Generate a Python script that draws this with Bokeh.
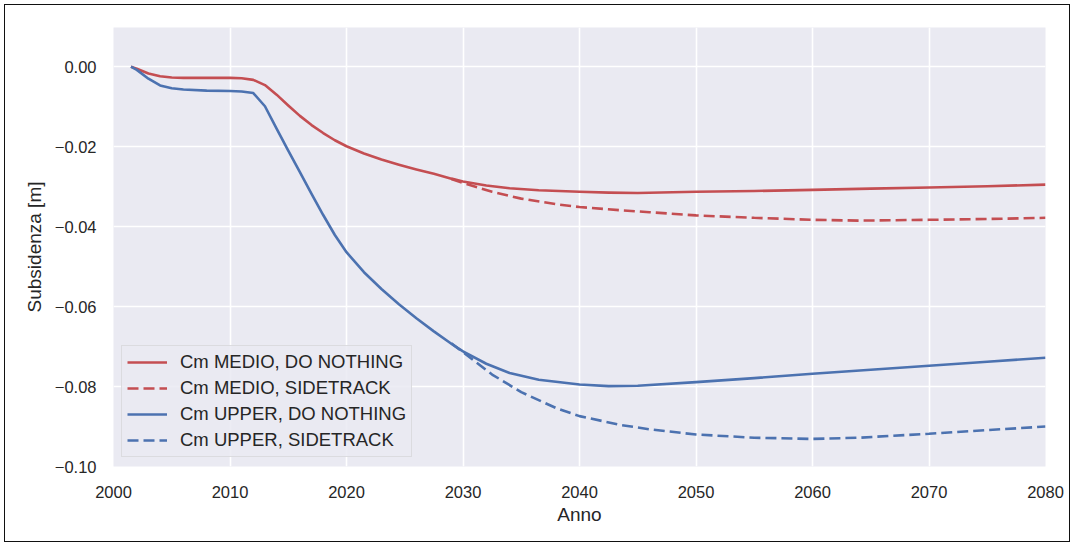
from bokeh.plotting import figure
from bokeh.models import FixedTicker, CustomJSTickFormatter, Legend, LegendItem
from bokeh.embed import file_html
from bokeh.resources import INLINE

# --- data ---
years_base = [2001.5, 2002, 2003, 2004, 2005, 2006, 2008, 2010, 2011, 2012, 2013, 2014, 2015, 2016,
              2017, 2018, 2019, 2020, 2021.5, 2023, 2024.5, 2026, 2027.5, 2029, 2030, 2032, 2034,
              2036.5, 2040, 2042.5, 2045, 2050, 2055, 2060, 2065, 2070, 2075, 2080]
medio_nothing = [0.0, -0.0005, -0.0017, -0.0024, -0.0027, -0.0028, -0.0028, -0.0028, -0.0029, -0.0033,
                 -0.0046, -0.0070, -0.0097, -0.0123, -0.0146, -0.0166, -0.0184, -0.0199, -0.0217,
                 -0.0232, -0.0245, -0.0257, -0.0268, -0.0280, -0.0287, -0.0297, -0.0304, -0.0309,
                 -0.0313, -0.0315, -0.0316, -0.0313, -0.0311, -0.0308, -0.0305, -0.0302, -0.0299, -0.0295]
upper_nothing = [0.0, -0.0008, -0.0030, -0.0047, -0.0054, -0.0057, -0.0060, -0.0061, -0.0062, -0.0066,
                 -0.0099, -0.0155, -0.0210, -0.0264, -0.0318, -0.0371, -0.0421, -0.0464, -0.0514,
                 -0.0556, -0.0594, -0.0629, -0.0662, -0.0693, -0.0712, -0.0743, -0.0766, -0.0783,
                 -0.0795, -0.0799, -0.0798, -0.0789, -0.0779, -0.0768, -0.0758, -0.0748, -0.0738, -0.0728]

years_side = [2029, 2030, 2032.5, 2035, 2038, 2040, 2043.5, 2046, 2050, 2055, 2060, 2064, 2070, 2075, 2080]
medio_side = [-0.0281, -0.0291, -0.0313, -0.0330, -0.0344, -0.0351, -0.0359, -0.0364, -0.0372,
              -0.0378, -0.0383, -0.0385, -0.0383, -0.0381, -0.0378]
upper_side = [-0.0692, -0.0714, -0.0770, -0.0814, -0.0854, -0.0874, -0.0896, -0.0907, -0.0920,
              -0.0928, -0.0931, -0.0928, -0.0918, -0.0909, -0.0900]

x_ticks = [2000, 2010, 2020, 2030, 2040, 2050, 2060, 2070, 2080]
y_ticks = [0.0, -0.02, -0.04, -0.06, -0.08, -0.10]

labels = ["Cm MEDIO, DO NOTHING", "Cm MEDIO, SIDETRACK", "Cm UPPER, DO NOTHING", "Cm UPPER, SIDETRACK"]

RED = "#C44E52"
BLUE = "#4C72B0"
TXT = "#262626"
FONT = "Liberation Sans"

p = figure(width=1066, height=538, output_backend="svg", toolbar_location=None,
           x_range=(2000, 2080), y_range=(-0.10, 0.0098),
           min_border_left=108, min_border_top=22, min_border_right=26, min_border_bottom=77)
p.styles = {"border": "1.5px solid #111111", "margin-left": "4px", "margin-top": "4px"}
p.background_fill_color = "#EAEAF2"
p.border_fill_color = "white"
p.outline_line_color = None

r1 = p.line(years_base, medio_nothing, line_color=RED, line_width=2.6, line_join="round")
r2 = p.line(years_side, medio_side, line_color=RED, line_width=2.6, line_dash="11 5")
r3 = p.line(years_base, upper_nothing, line_color=BLUE, line_width=2.6, line_join="round")
r4 = p.line(years_side, upper_side, line_color=BLUE, line_width=2.6, line_dash="11 5")

p.xaxis.ticker = FixedTicker(ticks=x_ticks)
p.yaxis.ticker = FixedTicker(ticks=y_ticks)
p.yaxis.formatter = CustomJSTickFormatter(code="""
const v = Math.abs(tick).toFixed(2);
return (tick < -1e-9 ? "\\u2212" : "") + v;
""")

for ax in (p.xaxis, p.yaxis):
    ax.axis_line_color = None
    ax.major_tick_line_color = None
    ax.minor_tick_line_color = None
    ax.major_label_text_font = FONT
    ax.major_label_text_font_size = "16.5px"
    ax.major_label_text_color = TXT
    ax.axis_label_text_font = FONT
    ax.axis_label_text_font_size = "19px"
    ax.axis_label_text_font_style = "normal"
    ax.axis_label_text_color = TXT

p.xaxis.axis_label = "Anno"
p.yaxis.axis_label = "Subsidenza [m]"
p.xaxis.major_label_standoff = 13
p.yaxis.major_label_standoff = 11
p.xaxis.axis_label_standoff = 3
p.yaxis.axis_label_standoff = 7

p.grid.grid_line_color = "white"
p.grid.grid_line_width = 1.6

legend = Legend(items=[LegendItem(label=labels[0], renderers=[r1]),
                       LegendItem(label=labels[1], renderers=[r2]),
                       LegendItem(label=labels[2], renderers=[r3]),
                       LegendItem(label=labels[3], renderers=[r4])],
                location=(8, 9))
legend.background_fill_color = "#EAEAF2"
legend.background_fill_alpha = 0.85
legend.border_line_color = "#CCCCCC"
legend.border_line_width = 1
legend.label_text_font = FONT
legend.label_text_font_size = "18.5px"
legend.label_text_color = TXT
legend.glyph_width = 40
legend.glyph_height = 20
legend.label_height = 20
legend.spacing = 4
legend.padding = 5
legend.margin = 0
legend.label_standoff = 13
p.add_layout(legend, "center")

open("out.html", "w").write(file_html(p, INLINE))
